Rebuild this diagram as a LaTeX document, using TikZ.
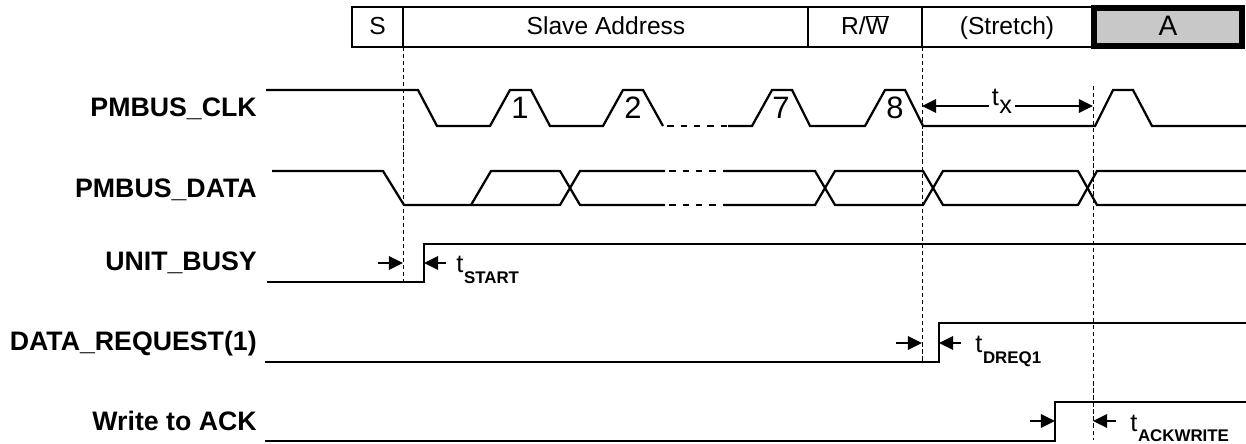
\documentclass[tikz,border=0pt]{standalone}
\usepackage{fontspec}
\setmainfont{Liberation Sans}
\usepackage{xcolor}
\usepackage{tikz}
\usetikzlibrary{arrows.meta}
\definecolor{kgray}{HTML}{C8C8C8}
\newcommand{\tsubs}[1]{t\kern0.5pt\raisebox{-7.8pt}{\fontsize{12}{14}\selectfont\bfseries #1}}

\begin{document}
\begin{tikzpicture}[x=0.025cm, y=-0.025cm,
  wave/.style={line width=1.6pt, line join=miter},
  gapline/.style={line width=1.6pt, dash pattern=on 4.5pt off 5pt, dash phase=-3pt},
  guide/.style={line width=0.7pt, dash pattern=on 3pt off 2pt},
  sig/.style={font=\fontsize{19}{21}\selectfont\bfseries, anchor=east, inner sep=0pt},
  field/.style={font=\fontsize{17.5}{20}\selectfont, anchor=base, inner sep=0pt},
  bitno/.style={font=\fontsize{22}{24}\selectfont, anchor=base, inner sep=0pt},
  tmark/.style={line width=1.4pt, -{Triangle[length=10pt,width=9.5pt]}},
  tlab/.style={font=\fontsize{18}{20}\selectfont, anchor=base west, inner sep=0pt}]
\useasboundingbox (0,0) rectangle (1246,444);

% frame fields
\draw[line width=1.4pt] (352,7) rectangle (1092,47);
\draw[line width=1.4pt] (403,7) -- (403,47) (808,7) -- (808,47) (922,7) -- (922,47);
\filldraw[fill=kgray, line width=4.5pt] (1094,8) rectangle (1242,46);
\node[field] (fS) at (377.5,35) {S};
\node[field] (fAddr) at (606,35) {Slave Address};
\node[field] (fRW) at (865,35) {R/$\overline{\mbox{W}}$};
\node[field] (fStr) at (1007,35) {(Stretch)};
\node[field, font=\fontsize{20}{22}\selectfont] (fAck) at (1168,36) {A};

% signal names
\node[sig] (lClk) at (257,109) {PMBUS\_CLK};
\node[sig] (lData) at (257,190) {PMBUS\_DATA};
\node[sig] (lBusy) at (257,263) {UNIT\_BUSY};
\node[sig] (lReq) at (257,344) {DATA\_REQUEST(1)};
\node[sig] (lAck) at (257,421) {Write to ACK};

% clock
\draw[wave] (266,90) -- (418,90) -- (437,126) -- (490,126) -- (510,90) -- (531,90)
  -- (550,126) -- (603,126) -- (623,90) -- (643,90) -- (663,126);
\draw[gapline] (663,126) -- (728,126);
\draw[wave] (728,126) -- (752,126) -- (772,90) -- (792,90) -- (810,126) -- (865,126)
  -- (885,90) -- (905,90) -- (923,126) -- (1095,126) -- (1113,90) -- (1133,90)
  -- (1152,126) -- (1246,126);
\node[bitno] (n1) at (520,119) {1};
\node[bitno] (n2) at (633,119) {2};
\node[bitno] (n7) at (781,119) {7};
\node[bitno] (n8) at (895,119) {8};

% data
\draw[wave] (272,171) -- (383,171) -- (404,205) -- (560,205) -- (580,171) -- (665,171);
\draw[wave] (471,205) -- (491,171) -- (560,171) -- (580,205) -- (665,205);
\draw[gapline] (665,171) -- (723,171);
\draw[gapline] (665,205) -- (723,205);
\draw[wave] (723,171) -- (815,171) -- (835,205) -- (923,205) -- (943,171) -- (1078,171)
  -- (1097,205) -- (1246,205);
\draw[wave] (723,205) -- (815,205) -- (835,171) -- (923,171) -- (943,205) -- (1078,205)
  -- (1097,171) -- (1246,171);

% status lines
\draw[wave] (267,282) -- (424,282) -- (424,244) -- (1246,244);
\draw[wave] (265,362) -- (939,362) -- (939,323) -- (1246,323);
\draw[wave] (265,441) -- (1055,441) -- (1055,402) -- (1246,402);

% guides
\coordinate (g1a) at (403,47);  \coordinate (g1b) at (403,282);
\coordinate (g2a) at (922,47);  \coordinate (g2b) at (922,362);
\coordinate (g3a) at (1093,86); \coordinate (g3b) at (1093,440);
\draw[guide] (g1a) -- (g1b);
\draw[guide] (g2a) -- (g2b);
\draw[guide] (g3a) -- (g3b);

% stretch time
\node[font=\fontsize{18}{20}\selectfont, inner sep=2pt] (tX) at (1002,101)
  {t\kern0.3pt\raisebox{-5.5pt}{x}};
\coordinate (xa) at (922,106); \coordinate (xb) at (1093,106);
\draw[tmark] (tX.west |- xa) -- (xa);
\draw[tmark] (tX.east |- xb) -- (xb);

% delays
\coordinate (sa) at (378,263); \coordinate (sb) at (403,263);
\coordinate (sc) at (446,263); \coordinate (sd) at (424,263);
\draw[tmark] (sa) -- (sb);
\draw[tmark] (sc) -- (sd);
\node[tlab] (tStart) at (456,273) {\tsubs{START}};

\coordinate (ra) at (896,343); \coordinate (rb) at (922,343);
\coordinate (rc) at (961,343); \coordinate (rd) at (939,343);
\draw[tmark] (ra) -- (rb);
\draw[tmark] (rc) -- (rd);
\node[tlab] (tDreq) at (975,353) {\tsubs{DREQ1}};

\coordinate (wa) at (1030,421); \coordinate (wb) at (1055,421);
\coordinate (wc) at (1116,421); \coordinate (wd) at (1093,421);
\draw[tmark] (wa) -- (wb);
\draw[tmark] (wc) -- (wd);
\node[tlab] (tAckw) at (1130,431) {\tsubs{ACKWRITE}};
\end{tikzpicture}
\end{document}
